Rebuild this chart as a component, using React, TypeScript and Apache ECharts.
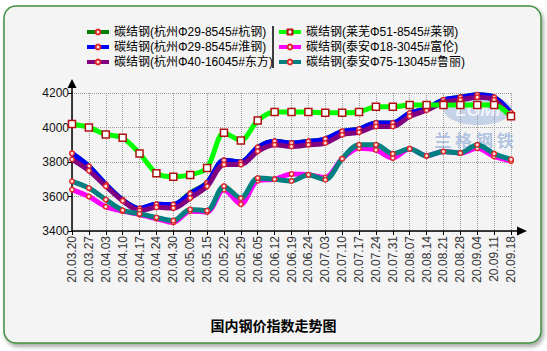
import React, { useEffect, useRef } from "react";
import * as echarts from "echarts";

const dates = [
  "20.03.20", "20.03.27", "20.04.03", "20.04.10", "20.04.17", "20.04.24", "20.04.30",
  "20.05.09", "20.05.15", "20.05.22", "20.05.29", "20.06.05", "20.06.12", "20.06.19",
  "20.06.24", "20.07.03", "20.07.10", "20.07.17", "20.07.24", "20.07.31", "20.08.07",
  "20.08.14", "20.08.21", "20.08.28", "20.09.04", "20.09.11", "20.09.18",
];

const names = [
  "碳结钢(杭州Φ29-8545#杭钢)",
  "碳结钢(杭州Φ29-8545#淮钢)",
  "碳结钢(杭州Φ40-16045#东方)",
  "碳结钢(莱芜Φ51-8545#莱钢)",
  "碳结钢(泰安Φ18-3045#富伦)",
  "碳结钢(泰安Φ75-13045#鲁丽)",
];

const hangGang = [3850, 3775, 3670, 3580, 3530, 3555, 3553, 3620, 3680, 3810, 3800, 3885, 3920, 3910, 3919, 3933, 3977, 3991, 4026, 4026, 4084, 4110, 4160, 4175, 4190, 4175, 4085];
const huaiGang = [3850, 3775, 3670, 3580, 3530, 3555, 3553, 3615, 3678, 3810, 3800, 3885, 3920, 3910, 3919, 3933, 3977, 3991, 4026, 4026, 4084, 4110, 4160, 4175, 4190, 4175, 4085];
const dongFang = [3815, 3750, 3660, 3575, 3518, 3537, 3533, 3591, 3659, 3785, 3785, 3862, 3900, 3890, 3900, 3910, 3958, 3972, 4006, 4006, 4065, 4100, 4145, 4160, 4175, 4160, 4060];
const laiGang = [4020, 4000, 3960, 3940, 3850, 3735, 3715, 3725, 3765, 3970, 3925, 4040, 4090, 4090, 4090, 4085, 4085, 4090, 4120, 4120, 4130, 4130, 4130, 4130, 4130, 4130, 4065];
const fuLun = [3640, 3600, 3541, 3515, 3495, 3472, 3450, 3515, 3510, 3640, 3555, 3692, 3700, 3730, 3726, 3710, 3819, 3880, 3870, 3823, 3877, 3836, 3861, 3852, 3880, 3832, 3805];
const luLi = [3688, 3649, 3582, 3520, 3500, 3478, 3460, 3525, 3518, 3660, 3590, 3707, 3700, 3690, 3726, 3697, 3819, 3900, 3900, 3848, 3877, 3836, 3861, 3852, 3900, 3848, 3815];

const seriesData = [hangGang, huaiGang, dongFang, laiGang, fuLun, luLi];
const lineColors = ["#008000", "#0000ff", "#800080", "#00ff00", "#ff00ff", "#008080"];

const yMin = 3400;
const yMax = 4200;
const yStep = 200;

const FONT = '"Liberation Sans", Arial, "Noto Sans CJK SC", sans-serif';

export default function App() {
  const ref = useRef<HTMLDivElement>(null);

  useEffect(() => {
    if (!ref.current) return;
    const chart = echarts.init(ref.current, null, { renderer: "svg" });

    const series = seriesData.map((d, i) => {
      const isSquare = i === 3;
      return {
        name: names[i],
        type: "line",
        data: d,
        smooth: 0.3,
        symbol: isSquare ? "rect" : "circle",
        symbolSize: isSquare ? 7 : 4.5,
        showSymbol: true,
        lineStyle: { color: lineColors[i], width: 5 },
        itemStyle: {
          color: isSquare ? "#ffffff" : "#ffe0e0",
          borderColor: isSquare ? "#b01010" : "#e02828",
          borderWidth: 1.5,
        },
        emphasis: { disabled: true },
        z: 2 + i,
      };
    });

    const legendCommon = {
      orient: "vertical",
      top: 26,
      itemWidth: 22,
      itemHeight: 6,
      itemGap: 3,
      padding: 0,
      textStyle: { fontSize: 12, color: "#000", fontFamily: FONT },
      lineStyle: { width: 4 },
      selectedMode: false,
    };

    chart.setOption({
      animation: false,
      backgroundColor: "#ffffff",
      textStyle: { fontFamily: FONT },
      title: {
        text: "国内钢价指数走势图",
        left: "center",
        top: 313,
        textStyle: { fontSize: 14, fontWeight: "bold", color: "#000", fontFamily: '"Noto Sans CJK SC", sans-serif' },
      },
      legend: [
        { ...legendCommon, left: 85, data: names.slice(0, 3) },
        { ...legendCommon, left: 277, data: names.slice(3, 6) },
      ],
      grid: { left: 72, right: 36, top: 93, bottom: 120, containLabel: false, outerBoundsMode: "none" },
      xAxis: {
        type: "category",
        data: dates,
        boundaryGap: false,
        axisLine: { show: true, lineStyle: { color: "#000", width: 1.5 } },
        axisTick: { show: true, length: 4, interval: 0, lineStyle: { color: "#000" } },
        axisLabel: { interval: 0, rotate: 90, fontSize: 12, color: "#333", margin: 5, fontFamily: FONT },
        splitLine: { show: true, interval: 0, lineStyle: { color: "#9a9a9a", type: "dotted", width: 1 } },
      },
      yAxis: {
        type: "value",
        min: yMin,
        max: yMax,
        interval: yStep,
        axisLine: { show: true, lineStyle: { color: "#000", width: 1.5 } },
        axisTick: { show: true, length: 4, lineStyle: { color: "#000" } },
        axisLabel: {
          fontSize: 12,
          color: "#111",
          margin: 3,
          fontFamily: FONT,
          formatter: (v: number) => String(v),
        },
        splitLine: { show: true, lineStyle: { color: "#9a9a9a", type: "dotted", width: 1 } },
      },
      graphic: [
        {
          type: "rect",
          z: -100,
          shape: { x: 4, y: 6, width: 537, height: 337, r: 12 },
          style: {
            fill: "#f4f4f4",
            stroke: "#3f8f3f",
            lineWidth: 1.5,
            shadowBlur: 4,
            shadowOffsetX: 2,
            shadowOffsetY: 3,
            shadowColor: "rgba(0,0,0,0.35)",
          },
        },
        {
          type: "ellipse",
          z: 1,
          shape: { cx: 478, cy: 110, rx: 34, ry: 15 },
          style: { fill: "rgba(110,145,205,0.35)" },
        },
        {
          type: "text",
          z: 1,
          x: 478,
          y: 110,
          style: {
            text: "LGMI",
            fill: "rgba(255,255,255,0.75)",
            font: 'italic bold 18px "Liberation Sans", Arial',
            align: "center",
            verticalAlign: "middle",
          },
        },
        {
          type: "text",
          z: 1,
          x: 474,
          y: 139,
          style: {
            text: "兰 格 钢 铁",
            fill: "rgba(120,155,210,0.55)",
            font: 'bold 17px "Noto Sans CJK SC", sans-serif',
            align: "center",
            verticalAlign: "middle",
          },
        },
        {
          type: "line",
          z: 5,
          shape: { x1: 273, y1: 26, x2: 273, y2: 68 },
          style: { stroke: "#000", lineWidth: 1.5 },
        },
        {
          type: "line",
          z: 5,
          shape: { x1: 72, y1: 93, x2: 72, y2: 87 },
          style: { stroke: "#000", lineWidth: 1.5 },
        },
        {
          type: "polygon",
          z: 5,
          shape: { points: [[67.5, 88], [76.5, 88], [72, 79]] },
          style: { fill: "#000" },
        },
        {
          type: "line",
          z: 5,
          shape: { x1: 511, y1: 231, x2: 518, y2: 231 },
          style: { stroke: "#000", lineWidth: 1.5 },
        },
        {
          type: "polygon",
          z: 5,
          shape: { points: [[517, 226.5], [517, 235.5], [527, 231]] },
          style: { fill: "#000" },
        },
      ],
      series,
    });

    return () => chart.dispose();
  }, []);

  return (
    <div
      ref={ref}
      style={{ position: "fixed", left: 0, top: 0, width: 547, height: 351 }}
    />
  );
}
